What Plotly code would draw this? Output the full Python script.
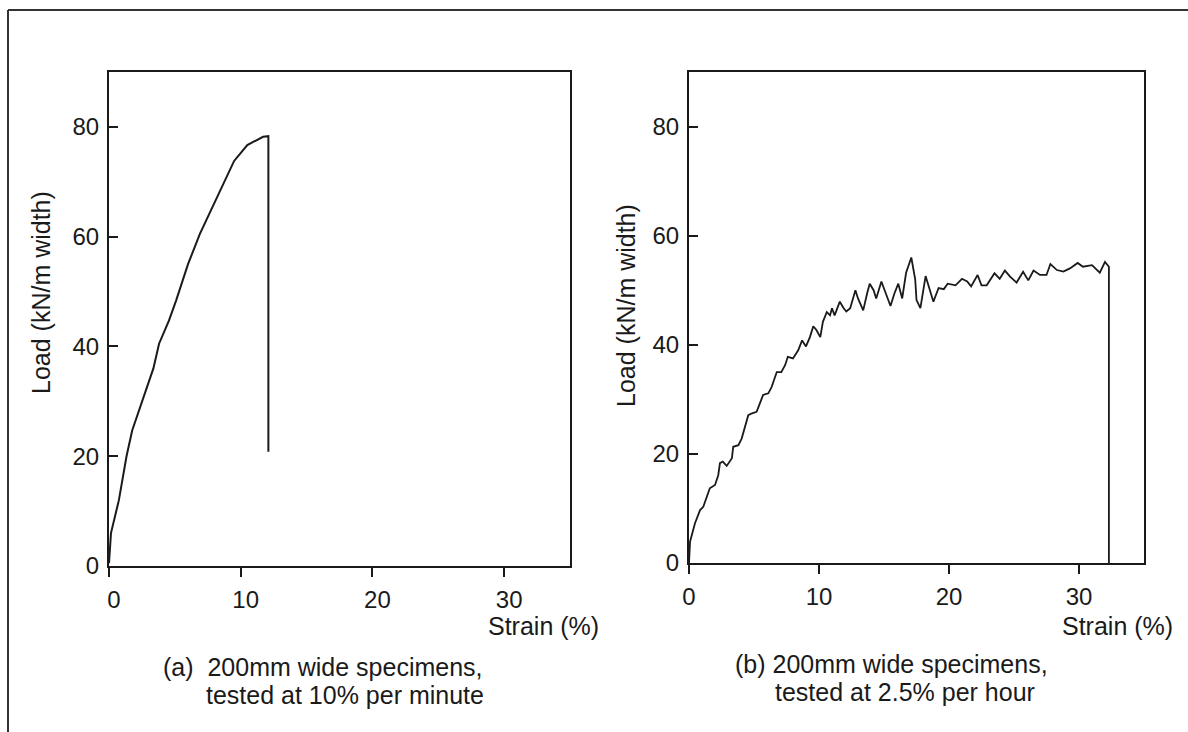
import plotly.graph_objects as go

# ---- data ----
strain_a = [0, 0.15, 0.75, 1.33, 1.76, 2.5, 3.37, 3.8, 4.55, 5.1, 6.0, 6.9, 8.06, 9.5,
            10.5, 11.1, 11.7, 12.1, 12.1]
load_a = [0.5, 6, 12, 20, 24.7, 30, 36, 40.5, 44.7, 48.4, 55, 60.5, 66.5, 73.8,
          76.7, 77.4, 78.2, 78.3, 20.8]

strain_b = [0, 0.08, 0.46, 0.85, 1.1, 1.36, 1.6, 2.0, 2.25, 2.38, 2.6, 2.9, 3.3, 3.4, 3.8,
            4.05, 4.3, 4.56, 4.8, 5.2, 5.46, 5.7, 6.1, 6.36, 6.75, 7.1, 7.4, 7.6, 8.0, 8.4,
            8.7, 9.0, 9.3, 9.56, 9.8, 10.1, 10.3, 10.6, 10.85, 11.0, 11.2, 11.6, 11.9, 12.1,
            12.4, 12.8, 13.0, 13.4, 13.7, 13.9, 14.2, 14.4, 14.8, 15.2, 15.5, 15.8, 16.1,
            16.4, 16.7, 17.1, 17.4, 17.5, 17.8, 18.2, 18.5, 18.8, 19.2, 19.6, 19.9, 20.5,
            21.0, 21.4, 21.7, 22.2, 22.5, 22.9, 23.5, 23.9, 24.3, 24.7, 25.2, 25.7, 26.1,
            26.5, 27.0, 27.5, 27.8, 28.3, 28.8, 29.3, 29.9, 30.3, 31.0, 31.6, 32.0, 32.3, 32.3]
load_b = [0, 3.9, 7.3, 9.7, 10.3, 12.1, 13.7, 14.3, 16.1, 18.3, 18.6, 17.8, 19.2, 21.3, 21.6,
          22.8, 25.0, 27.1, 27.4, 27.7, 29.3, 30.8, 31.1, 32.3, 35.0, 35.0, 36.3, 37.8, 37.5,
          39.0, 40.8, 39.7, 41.4, 43.4, 42.7, 41.4, 44.2, 46.0, 45.4, 46.7, 45.4, 47.9, 46.7,
          46.1, 46.7, 50.0, 48.5, 46.3, 49.4, 51.2, 50.0, 48.5, 51.6, 49.1, 47.1, 49.4, 51.2,
          48.5, 53.2, 56.0, 52.0, 48.2, 46.7, 52.6, 50.0, 47.9, 50.4, 50.2, 51.2, 50.9, 52.1,
          51.6, 50.7, 52.8, 50.9, 50.9, 53.1, 52.1, 53.6, 52.5, 51.4, 53.4, 51.8, 53.6, 52.8,
          52.8, 54.8, 53.7, 53.4, 54.0, 55.0, 54.3, 54.6, 53.2, 55.2, 54.3, 0]

x_ticks = [0, 10, 20, 30]
y_ticks = [0, 20, 40, 60, 80]
x_title = "Strain (%)"
y_title = "Load (kN/m width)"
caption_a = ["(a)\u00a0 200mm wide specimens,", "tested at 10% per minute"]
caption_b = ["(b) 200mm wide specimens,", "tested at 2.5% per hour"]

W, H = 1188, 732
FONT = "Liberation Sans, Arial, sans-serif"
INK = "#1a1a1a"


def px(x):
    return x / W


def py(y):
    return 1 - y / H


fig = go.Figure()
fig.add_trace(go.Scatter(x=strain_a, y=load_a, mode="lines", xaxis="x", yaxis="y",
                         line=dict(color=INK, width=2), hoverinfo="skip", showlegend=False))
fig.add_trace(go.Scatter(x=strain_b, y=load_b, mode="lines", xaxis="x2", yaxis="y2",
                         line=dict(color=INK, width=1.8), hoverinfo="skip", showlegend=False))

xa_common = dict(range=[0, 35], tickvals=x_ticks, ticks="outside", ticklen=9, tickwidth=2,
                 tickcolor=INK, showline=True, linewidth=2, linecolor=INK, mirror=True,
                 showgrid=False, zeroline=False, automargin=False, fixedrange=True,
                 tickfont=dict(family=FONT, size=24, color=INK), ticklabelstandoff=2)
ya_common = dict(range=[0, 90], tickvals=y_ticks, ticks="inside", ticklen=9, tickwidth=2,
                 tickcolor=INK, showline=True, linewidth=2, linecolor=INK, mirror=True,
                 showgrid=False, zeroline=False, automargin=False, fixedrange=True,
                 tickfont=dict(family=FONT, size=24, color=INK), ticklabelstandoff=3)

fig.update_layout(
    width=W, height=H,
    margin=dict(l=0, r=0, t=0, b=0),
    paper_bgcolor="white", plot_bgcolor="white",
    xaxis=dict(domain=[px(109), px(570)], anchor="y", ticklabelshift=5, **xa_common),
    yaxis=dict(domain=[py(566), py(72)], anchor="x", **ya_common),
    xaxis2=dict(domain=[px(689), px(1144)], anchor="y2", **xa_common),
    yaxis2=dict(domain=[py(563), py(72)], anchor="x2", **ya_common),
)

ann = []
tf = dict(family=FONT, size=25, color=INK)
ann.append(dict(text=y_title, x=px(41), y=py(293), textangle=-90, xanchor="center",
                yanchor="middle"))
ann.append(dict(text=y_title, x=px(626), y=py(306), textangle=-90, xanchor="center",
                yanchor="middle"))
ann.append(dict(text=x_title, x=px(599), y=py(626), xanchor="right", yanchor="middle"))
ann.append(dict(text=x_title, x=px(1173), y=py(626), xanchor="right", yanchor="middle"))
ann.append(dict(text=caption_a[0], x=px(163), y=py(667), xanchor="left", yanchor="middle"))
ann.append(dict(text=caption_a[1], x=px(206), y=py(695), xanchor="left", yanchor="middle"))
ann.append(dict(text=caption_b[0], x=px(735), y=py(664), xanchor="left", yanchor="middle"))
ann.append(dict(text=caption_b[1], x=px(775), y=py(692), xanchor="left", yanchor="middle"))
for a in ann:
    a.update(xref="paper", yref="paper", showarrow=False, font=tf, borderpad=0, borderwidth=0)
fig.update_layout(annotations=ann)

# outer frame (left and top edges visible in the reference)
fig.add_shape(type="line", xref="paper", yref="paper", x0=px(8), x1=px(8), y0=-0.01, y1=py(10),
              line=dict(color="#333", width=2))
fig.add_shape(type="line", xref="paper", yref="paper", x0=px(8), x1=1.01, y0=py(10), y1=py(10),
              line=dict(color="#333", width=2))

fig.write_html("out.html", config={"displayModeBar": False, "staticPlot": True},
               post_script="document.body.style.margin='0';document.body.style.padding='0';")
